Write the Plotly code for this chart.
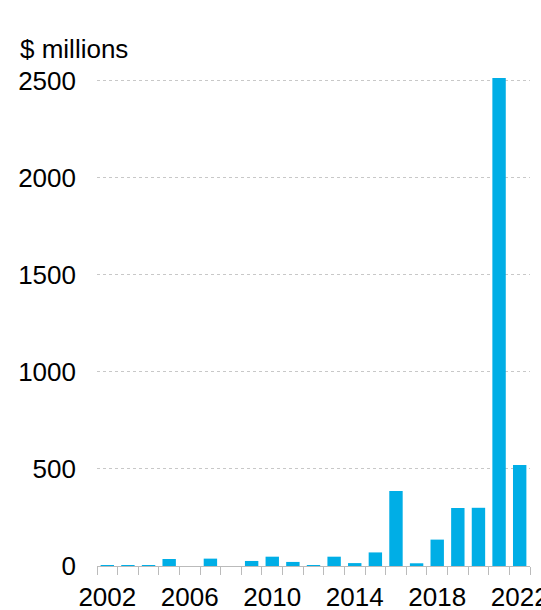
import plotly.graph_objects as go

years = list(range(2002, 2023))
values = [2, 5, 3, 36, 0, 38, 0, 26, 48, 21, 1, 48, 15, 70, 387, 14, 136, 299, 300, 2600, 521]
x_tick_labels = [2002, 2006, 2010, 2014, 2018, 2022]
y_tick_values = [0, 500, 1000, 1500, 2000, 2500]

fig = go.Figure()
fig.add_trace(
    go.Bar(
        x=years,
        y=values,
        width=0.65,
        marker_color='#00aee6',
        marker_line_width=0,
        cliponaxis=True,
        showlegend=False,
    )
)

# -------------------------- Configure Layout ---------------------- #
fig.update_layout(
    width=541,
    height=610,
    paper_bgcolor='white',
    plot_bgcolor='white',
    font=dict(family='Liberation Sans, Arial', size=26, color='#000'),
    margin=dict(l=97, r=11, t=78, b=44, autoexpand=False),
    xaxis=dict(
        range=[2001.5, 2022.5],
        tickvals=x_tick_labels,
        ticks='',
        showgrid=False,
        showline=True,
        linecolor='#bbbbbb',
        linewidth=1,
        zeroline=False,
        automargin=False,
        ticklabelstandoff=8,
        ticklabeloverflow='allow',
        minor=dict(ticks='outside', tick0=2001.5, dtick=1, ticklen=8,
                   tickcolor='#bbbbbb', showgrid=False),
        tickfont=dict(size=26),
    ),
    yaxis=dict(
        range=[0, 2515],
        tickvals=y_tick_values,
        showgrid=True,
        gridcolor='#c8c8c8',
        griddash='dot',
        gridwidth=1,
        zeroline=False,
        automargin=False,
        ticks='',
        ticklabelstandoff=20,
        tickfont=dict(size=26),
    ),
    annotations=[
        dict(text='$ millions', xref='paper', yref='paper', x=-0.183, y=1.025,
             xanchor='left', yanchor='bottom', showarrow=False,
             font=dict(size=26)),
    ],
)

# drop the default page margin so the figure fills the window exactly
fig.write_html(
    "out.html",
    config={'displayModeBar': False},
    post_script="document.body.style.margin='0';document.body.style.overflow='hidden';",
)
